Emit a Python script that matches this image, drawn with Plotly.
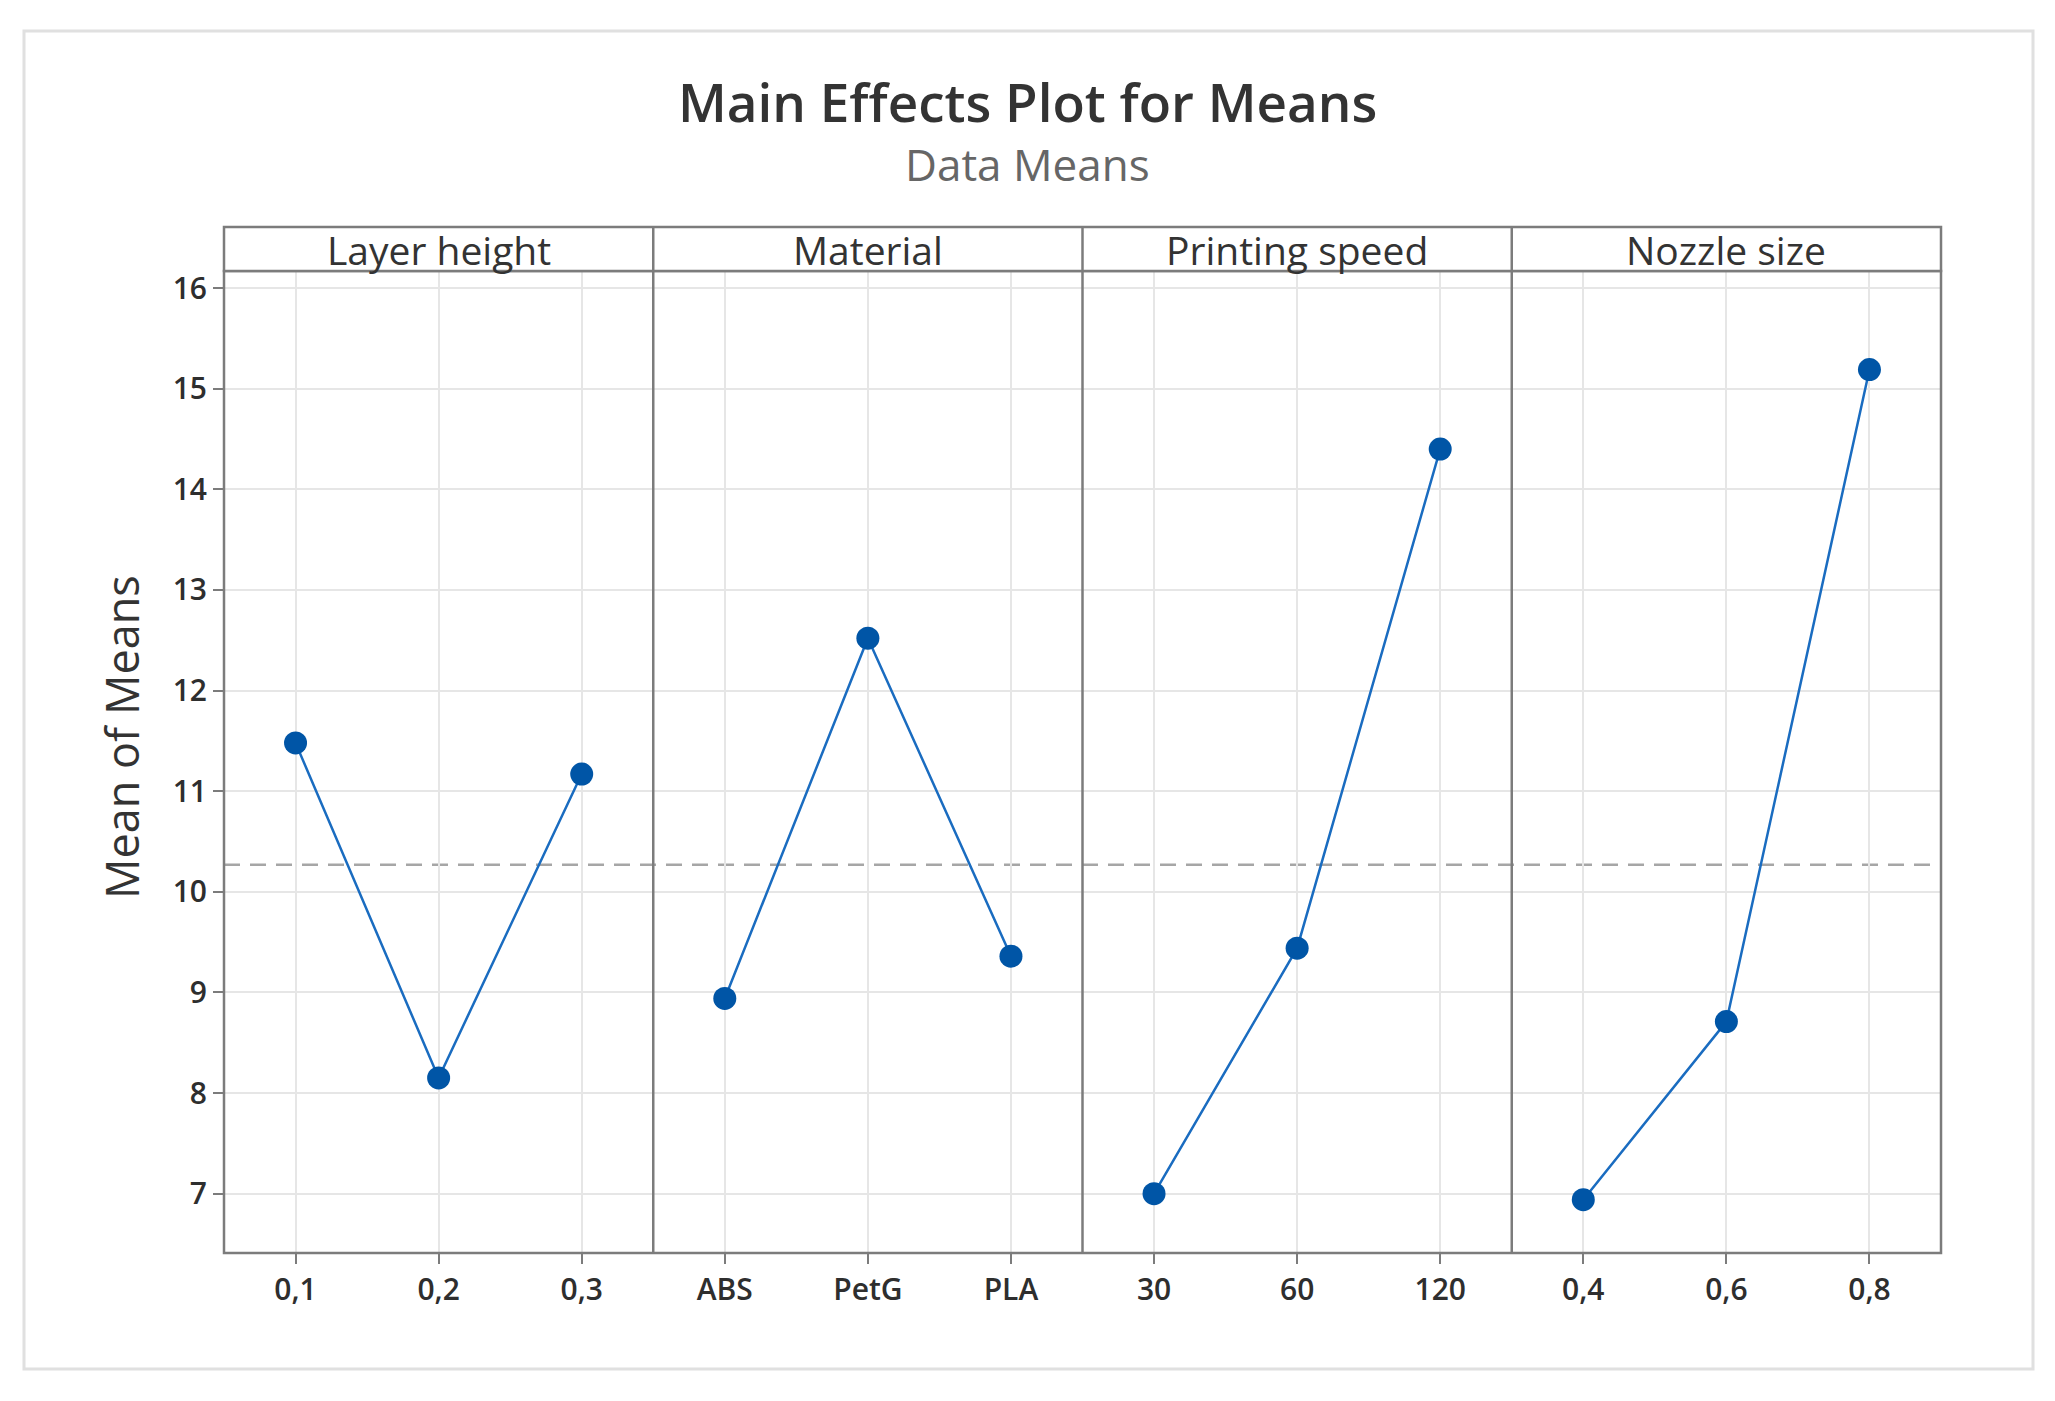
import plotly.graph_objects as go

# ---------------- data ----------------
factors = ["Layer height", "Material", "Printing speed", "Nozzle size"]
layer_levels = ["0,1", "0,2", "0,3"]
layer_means = [11.48, 8.15, 11.17]
material_levels = ["ABS", "PetG", "PLA"]
material_means = [8.94, 12.52, 9.36]
speed_levels = ["30", "60", "120"]
speed_means = [7.00, 9.44, 14.40]
nozzle_levels = ["0,4", "0,6", "0,8"]
nozzle_means = [6.94, 8.71, 15.19]
grand_mean = 10.27
y_ticks = [7, 8, 9, 10, 11, 12, 13, 14, 15, 16]

levels = [layer_levels, material_levels, speed_levels, nozzle_levels]
means = [layer_means, material_means, speed_means, nozzle_means]

# ---------------- geometry ----------------
OFF = 8  # page body margin
W, H = 2055 - OFF, 1401 - OFF
L, T = 224 - OFF, 271 - OFF
R = W - (1941 - OFF)
B = H - (1253 - OFF)
PW = W - L - R
PH = H - T - B


def px_x(p):
    return (p - OFF - L) / PW


def px_y(p):
    return (H - B - (p - OFF)) / PH


FONT = "Open Sans"
GRID = "#e6e6e6"
FRAME = "#7c7c7c"
BLUE = "#0055a6"
LINE = "#1a6cc0"

fig = go.Figure()

for i in range(4):
    xa = "x" if i == 0 else f"x{i+1}"
    fig.add_trace(go.Scatter(
        x=levels[i], y=means[i], xaxis=xa, yaxis="y",
        mode="lines+markers",
        line=dict(color=LINE, width=2.5),
        marker=dict(color=BLUE, size=23, symbol="circle"),
        showlegend=False, hoverinfo="x+y",
    ))

tickfont = dict(family=FONT, size=30, color="#2e2e2e", weight=600)
axis_common = dict(
    type="category", range=[-0.5, 2.5], showgrid=True, gridcolor=GRID, gridwidth=2,
    showline=False, zeroline=False, ticks="outside", ticklen=10, tickwidth=2,
    tickcolor=FRAME, tickfont=tickfont, fixedrange=True,
)
layout_axes = {}
for i in range(4):
    key = "xaxis" if i == 0 else f"xaxis{i+1}"
    d = dict(axis_common)
    d["domain"] = [i / 4, (i + 1) / 4]
    d["anchor"] = "y"
    layout_axes[key] = d

fig.update_layout(**layout_axes)
fig.update_layout(
    yaxis=dict(
        range=[6.41, 16.17], tickvals=y_ticks, showgrid=True, gridcolor=GRID, gridwidth=2,
        zeroline=False, showline=False, ticks="outside", ticklen=10, tickwidth=2,
        tickcolor=FRAME, tickfont=tickfont,
        anchor="x", domain=[0, 1], fixedrange=True,
    ),
    width=W, height=H,
    margin=dict(l=L, r=R, t=T, b=B, pad=0),
    paper_bgcolor="white", plot_bgcolor="white",
    showlegend=False,
)

shapes = []
# outer light border
shapes.append(dict(type="rect", xref="paper", yref="paper",
                   x0=px_x(24), x1=px_x(2033), y0=px_y(1369), y1=px_y(31),
                   line=dict(color="#e0e0e0", width=3), fillcolor="rgba(0,0,0,0)", layer="below"))
# mean line
shapes.append(dict(type="line", xref="paper", yref="y", x0=0, x1=1, y0=grand_mean, y1=grand_mean,
                   line=dict(color="#a6a6a6", width=2.5, dash="16px,10px"), layer="between"))
# plot frame
strip_top = px_y(227)
shapes.append(dict(type="rect", xref="paper", yref="paper", x0=0, x1=1, y0=0, y1=1,
                   line=dict(color=FRAME, width=2.5), fillcolor="rgba(0,0,0,0)"))
# strip
shapes.append(dict(type="rect", xref="paper", yref="paper", x0=0, x1=1, y0=1, y1=strip_top,
                   line=dict(color=FRAME, width=2.5), fillcolor="white"))
for k in (0.25, 0.5, 0.75):
    shapes.append(dict(type="line", xref="paper", yref="paper", x0=k, x1=k, y0=0, y1=strip_top,
                       line=dict(color=FRAME, width=2.5)))

annotations = []
for i, f in enumerate(factors):
    annotations.append(dict(text=f, xref="paper", yref="paper", x=(i + 0.5) / 4,
                            y=px_y(250), xanchor="center", yanchor="middle", showarrow=False,
                            font=dict(family=FONT, size=39, color="#333333")))

annotations.append(dict(text="Main Effects Plot for Means", xref="paper", yref="paper",
                        x=px_x(1027), y=px_y(101), xanchor="center", yanchor="middle",
                        showarrow=False,
                        font=dict(family=FONT, size=53, color="#333333", weight=600)))
annotations.append(dict(text="Data Means", xref="paper", yref="paper",
                        x=px_x(1027), y=px_y(164), xanchor="center", yanchor="middle",
                        showarrow=False, font=dict(family=FONT, size=44, color="#666666")))
annotations.append(dict(text="Mean of Means", xref="paper", yref="paper",
                        x=px_x(121), y=px_y(737), xanchor="center", yanchor="middle",
                        textangle=-90, showarrow=False,
                        font=dict(family=FONT, size=45, color="#333333")))

fig.update_layout(shapes=shapes, annotations=annotations)

fig.write_html("out.html")
